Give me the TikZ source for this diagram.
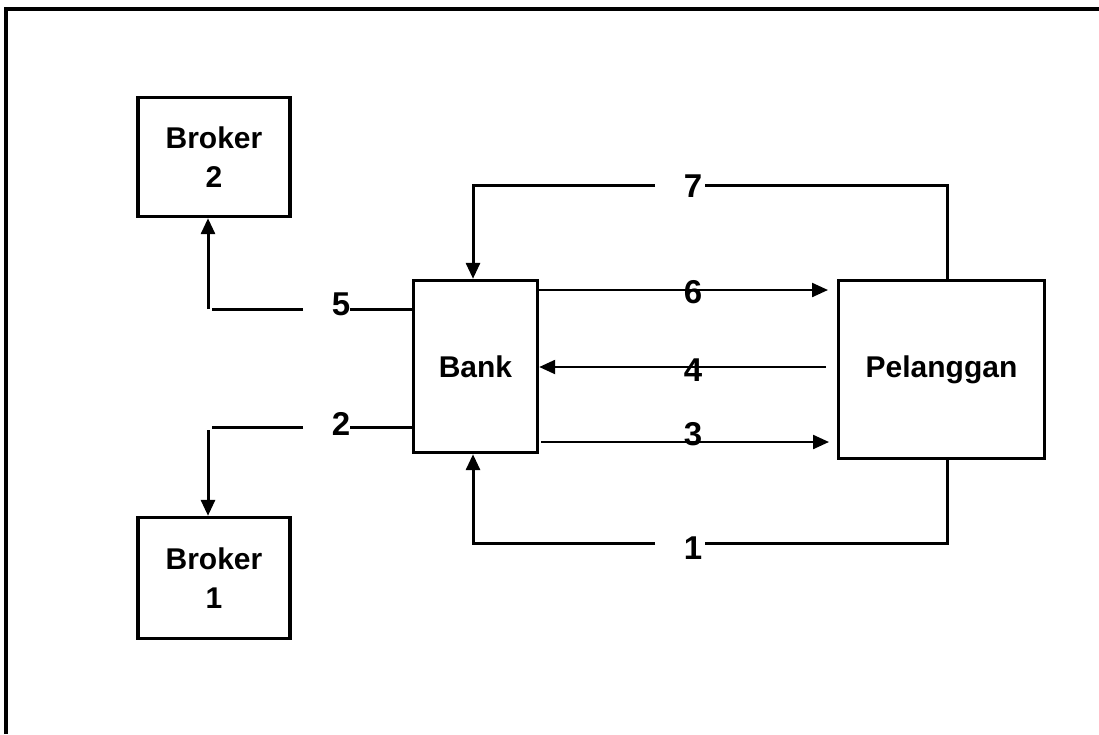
\documentclass[tikz,border=0pt]{standalone}
\usepackage{fontspec}
\setmainfont{Liberation Sans}
\usetikzlibrary{arrows.meta}
\begin{document}
\begin{tikzpicture}[x=1pt,y=-1pt,
  box/.style={draw,line width=3.4pt,inner sep=0pt,align=center,font=\fontsize{30}{39}\selectfont\bfseries},
  lbl/.style={inner sep=0pt,font=\fontsize{33}{33}\selectfont\bfseries},
  conn/.style={line width=3pt},
  thin/.style={line width=2.3pt},
  arr/.style={-{Triangle[length=16pt,width=14pt]}},
]
\useasboundingbox (0,0) rectangle (1099,734);
\draw[line width=3.2pt] (6,734) -- (6,9) -- (1099,9);

\node[box,minimum width=152pt,minimum height=119pt] (b2) at (214,157) {Broker\\2};
\node[box,minimum width=152pt,minimum height=121pt] (b1) at (214,578) {Broker\\1};
\node[box,minimum width=124pt,minimum height=172pt] (bank) at (475.5,366.5) {Bank};
\node[box,minimum width=206pt,minimum height=178pt] (pel) at (941.5,369.5) {Pelanggan};

\node[lbl] (l7) at (693,186) {7};
\node[lbl] (l6) at (693,292) {6};
\node[lbl] (l4) at (693,370) {4};
\node[lbl] (l3) at (693,434) {3};
\node[lbl] (l1) at (693,548) {1};
\node[lbl] (l5) at (341,304) {5};
\node[lbl] (l2) at (341,424) {2};

% route 7
\coordinate (c7r) at (947,185);
\coordinate (c7l) at (473,185);
\coordinate (g7r) at (705,185);
\coordinate (g7l) at (655,185);
\draw[conn] (pel.north -| c7r) -- (c7r) -- (g7r);
\draw[conn,arr] (g7l) -- (c7l) -- (bank.north -| c7l);

% route 1
\coordinate (c1r) at (947,543);
\coordinate (c1l) at (473,543);
\coordinate (g1r) at (705,543);
\coordinate (g1l) at (655,543);
\draw[conn] (pel.south -| c1r) -- (c1r) -- (g1r);
\draw[conn,arr] (g1l) -- (c1l) -- (bank.south -| c1l);

% arrows 6, 4, 3
\coordinate (a6) at (828,290);
\coordinate (a4) at (826,367);
\coordinate (a3) at (829,442);
\coordinate (s3) at (541,442);
\draw[thin,arr] (bank.east |- a6) -- (a6);
\draw[thin,arr] (a4) -- (bank.east |- a4);
\draw[thin,arr] (s3) -- (a3);

% route 5
\coordinate (c5a) at (303,309);
\coordinate (c5b) at (212,309);
\coordinate (c5c) at (208,309);
\draw[conn] (bank.west |- c5a) -- (l5.east |- c5a);
\draw[conn] (c5a) -- (c5b);
\draw[conn,arr] (c5c) -- (c5c |- b2.south);

% route 2
\coordinate (c2a) at (303,427);
\coordinate (c2b) at (212,427);
\coordinate (c2c) at (208,430);
\draw[conn] (bank.west |- c2a) -- (l2.east |- c2a);
\draw[conn] (c2a) -- (c2b);
\draw[conn,arr] (c2c) -- (c2c |- b1.north);
\end{tikzpicture}
\end{document}
